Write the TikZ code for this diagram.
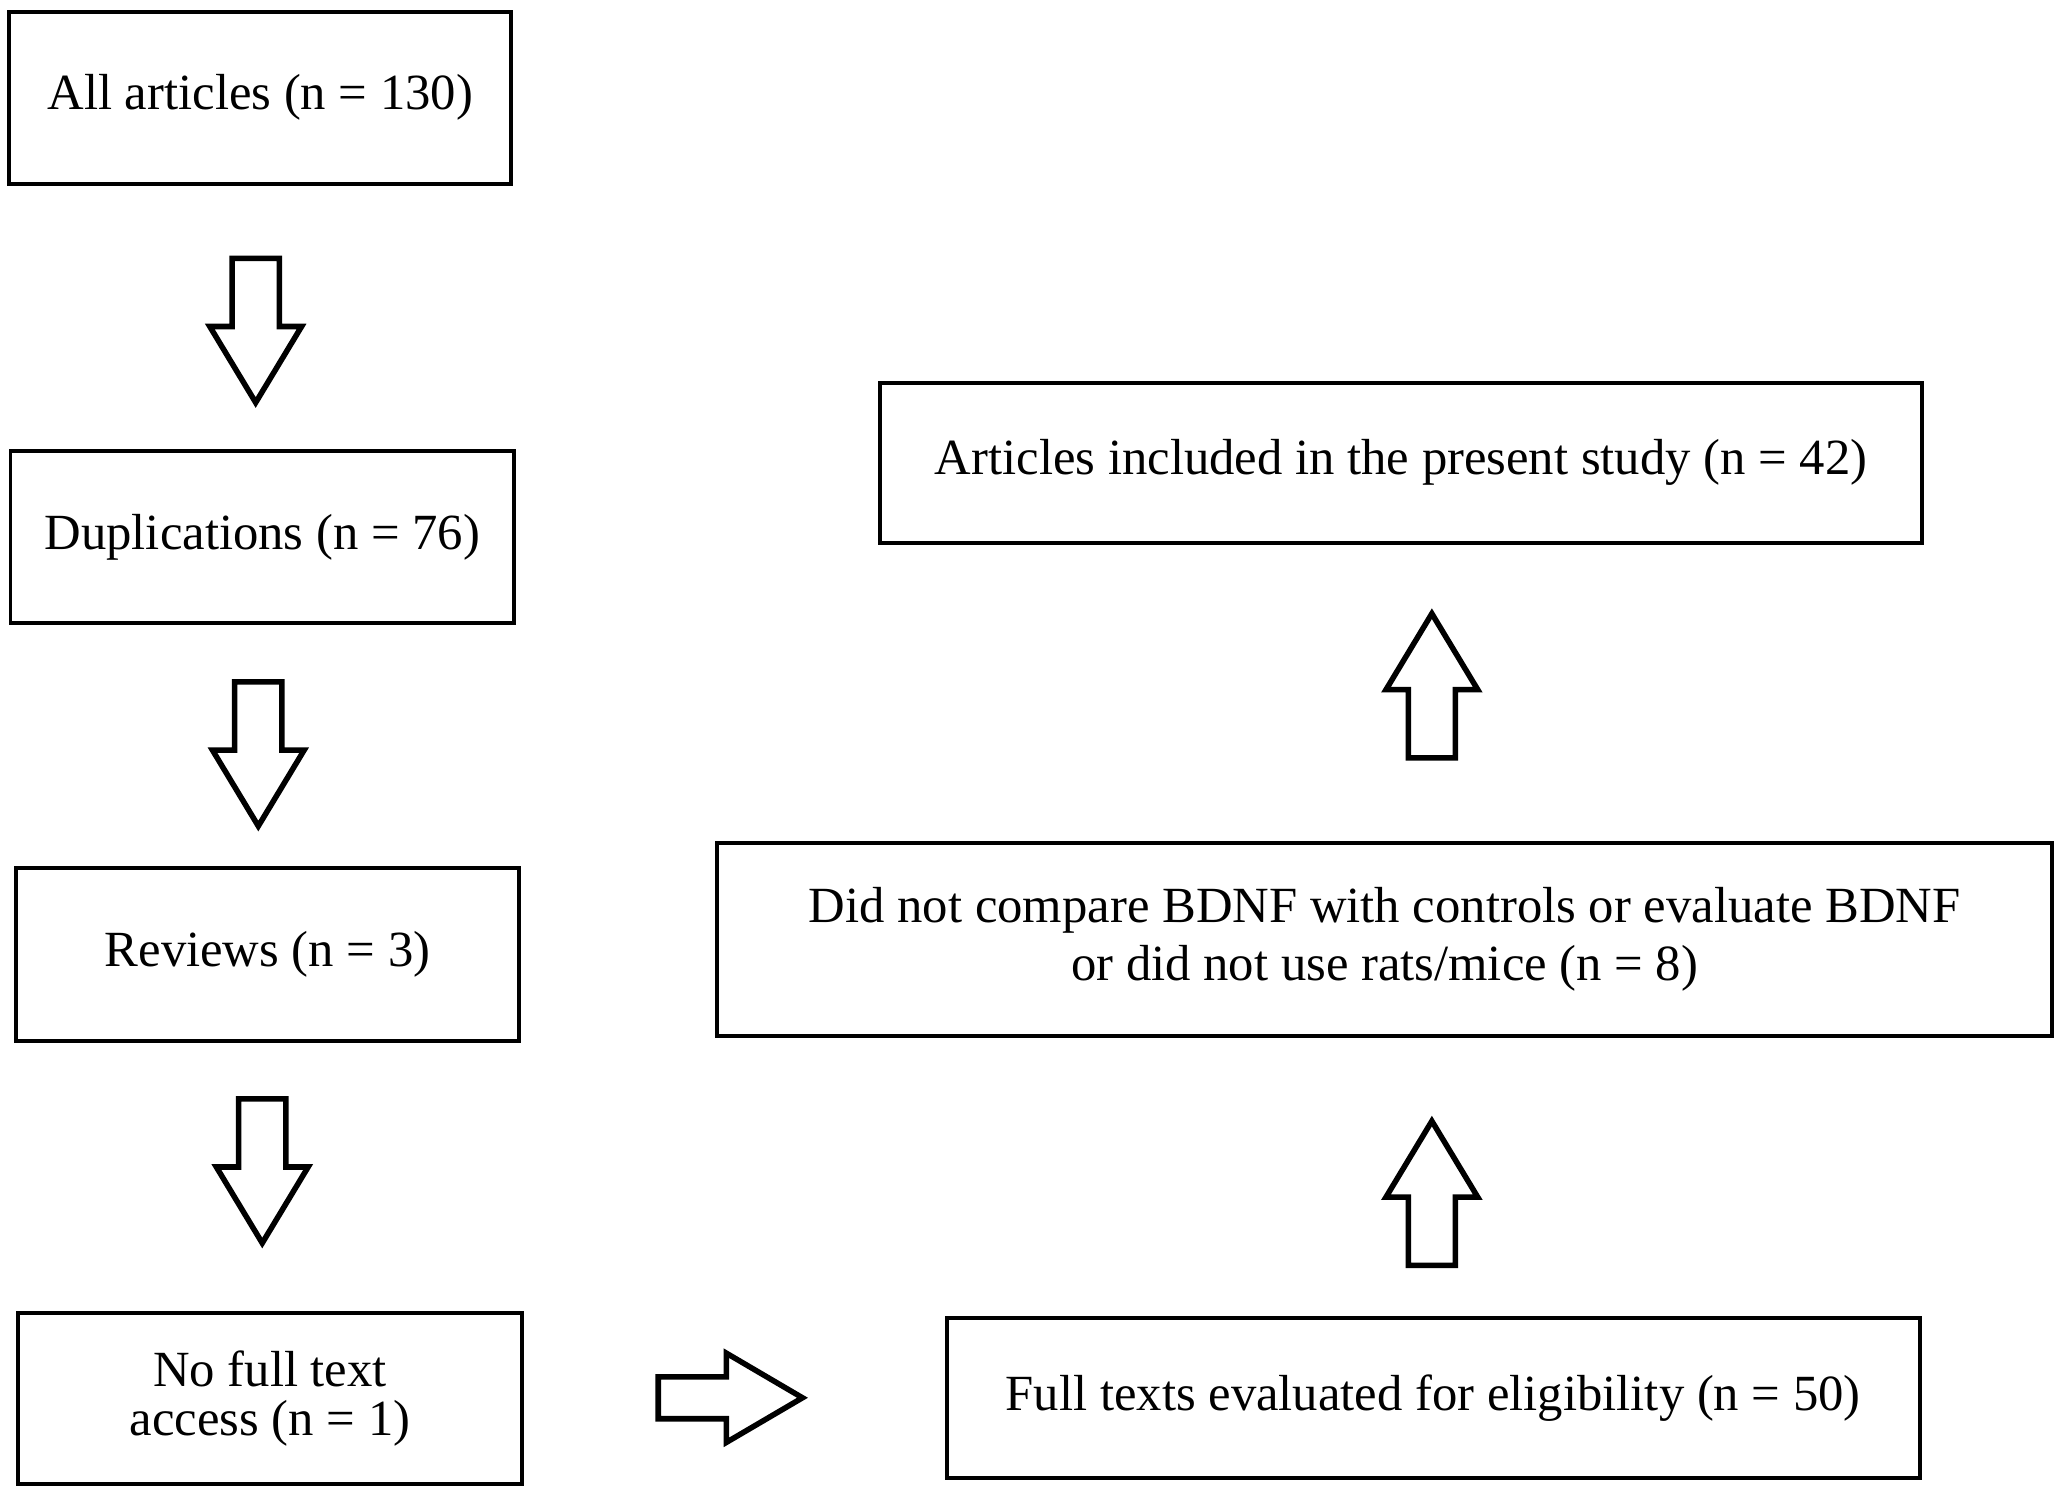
\documentclass[tikz,border=0pt]{standalone}
\usepackage{fontspec}
\setmainfont{Liberation Serif}
\begin{document}
\begin{tikzpicture}[x=0.02cm,y=-0.02cm,
  box/.style={draw,line width=1.7pt,inner sep=0pt,align=center,font=\fontsize{22}{25}\selectfont},
  blk/.style={draw,line width=2.4pt,line join=miter},
  pics/darrow/.style={code={\draw[blk] (-18,0)--(18,0)--(18,52)--(35,52)--(0,110)--(-35,52)--(-18,52)--cycle;}},
  pics/uarrow/.style={code={\draw[blk] (-18,0)--(18,0)--(18,-52)--(35,-52)--(0,-110)--(-35,-52)--(-18,-52)--cycle;}},
  pics/rarrow/.style={code={\draw[blk] (0,-16)--(0,16)--(52,16)--(52,34)--(110,0)--(52,-34)--(52,-16)--cycle;}}]
\useasboundingbox (0,0) rectangle (1568,1135);
\node[box,minimum width=383*0.02cm,minimum height=131*0.02cm] (a) at (198.5,74.5) {All articles (n = 130)};
\node[box,minimum width=384*0.02cm,minimum height=131*0.02cm] (b) at (200,409.5) {Duplications (n = 76)};
\node[box,minimum width=384*0.02cm,minimum height=132*0.02cm] (c) at (204,728) {Reviews (n = 3)};
\node[box,minimum width=384*0.02cm,minimum height=131*0.02cm] (d) at (206,1066.5) {No full text\\[-4pt] access (n = 1)};
\node[box,minimum width=742*0.02cm,minimum height=122*0.02cm] (e) at (1093,1066) {Full texts evaluated for eligibility (n = 50)};
\node[box,minimum width=1018*0.02cm,minimum height=147*0.02cm] (f) at (1056,716.5) {Did not compare BDNF with controls or evaluate BDNF\\ or did not use rats/mice (n = 8)};
\node[box,minimum width=795*0.02cm,minimum height=122*0.02cm] (g) at (1068.5,353) {Articles included in the present study (n = 42)};
\pic at (195,197) {darrow};
\pic at (197,520) {darrow};
\pic at (200,838) {darrow};
\pic at (502,1066) {rarrow};
\pic at (1092,965) {uarrow};
\pic at (1092,578) {uarrow};
\end{tikzpicture}
\end{document}
